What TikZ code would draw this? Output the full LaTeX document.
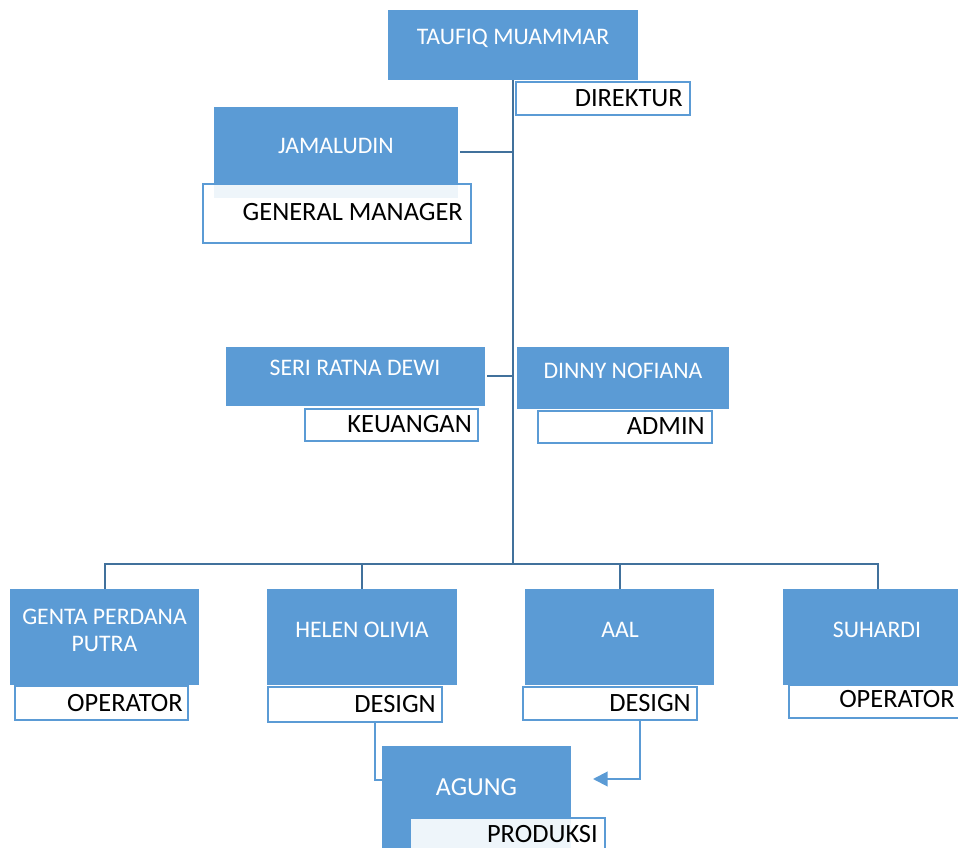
\documentclass[tikz,border=0pt]{standalone}
\usepackage{fontspec}
\setmainfont{Carlito}
\usetikzlibrary{arrows.meta}
\definecolor{boxblue}{HTML}{5B9BD5}
\definecolor{lineblue}{HTML}{41719C}
\def\px{0.75pt}
\tikzset{
  boxsize/.style 2 args={minimum width=#1*\px, minimum height=#2*\px},
  namebox/.style={fill=boxblue, draw=none, inner sep=0pt},
  rolebox/.style={draw=boxblue, line width=1.6pt, fill=white, fill opacity=0.9, inner sep=0pt},
  nametext/.style={text=white, font=\fontsize{17.8}{20.25}\selectfont, anchor=base, inner sep=0pt},
  roletext/.style={text=black, font=\fontsize{19.8}{22}\selectfont, anchor=base east, inner sep=0pt},
  trunk/.style={draw=lineblue, line width=1.5pt},
  flow/.style={draw=boxblue, line width=1.5pt},
}
\begin{document}
\begin{tikzpicture}[x=0.75pt,y=-0.75pt]
\useasboundingbox (0,0) rectangle (958,848);
% name boxes
\node[namebox, boxsize={250}{70}] (taufiq) at (513,45) {};
\node[namebox, boxsize={244}{91}] (jamal) at (336,152.5) {};
\node[namebox, boxsize={259}{59}] (seri) at (355.5,376.5) {};
\node[namebox, boxsize={212}{62}] (dinny) at (623,378) {};
\node[namebox, boxsize={189}{96}] (genta) at (104.5,637) {};
\node[namebox, boxsize={190}{96}] (helen) at (362,637) {};
\node[namebox, boxsize={189}{96}] (aal) at (619.5,637) {};
\node[namebox, boxsize={189}{96}] (suhardi) at (877.5,637) {};
\node[namebox, boxsize={189}{114}] (agung) at (476.5,803) {};

% trunk and bus
\coordinate (bus) at (513,564);
\draw[trunk] (taufiq.south) -- (bus);
\draw[trunk] (genta.north) |- (bus) -| (suhardi.north);
\draw[trunk] (helen.north) -- (helen.north |- bus);
\draw[trunk] (aal.north) -- (aal.north |- bus);
\draw[trunk] ([xshift=1.5pt]jamal.east) -- (jamal.east -| bus);
\draw[trunk] ([xshift=1.5pt]seri.east) -- (seri.east -| bus);

% role boxes
\node[rolebox, boxsize={174}{33}] (direktur) at (603,98.5) {};
\node[rolebox, boxsize={268}{59}] (genman) at (337,213.5) {};
\node[rolebox, boxsize={173}{32}] (keuangan) at (391.5,425) {};
\node[rolebox, boxsize={174}{32}] (admin) at (625,427) {};
\node[rolebox, boxsize={173}{34}] (operatorL) at (101.5,703) {};
\node[rolebox, boxsize={174}{35}] (designH) at (355,704.5) {};
\node[rolebox, boxsize={174}{33}] (designA) at (610,703.5) {};
\node[rolebox, boxsize={172}{33}] (operatorR) at (875,701.5) {};
\node[rolebox, boxsize={195}{34}] (produksi) at (507.5,835) {};

% design to produksi
\coordinate (agungarrow) at (593,779);
\draw[flow] ([xshift=81pt]designH.south west) |- ([yshift=-26pt]agung.north west);
\draw[flow, -{Triangle[length=11pt, width=11pt]}] ([xshift=22.5pt]designA.south) |- (agungarrow);

% names
\node[nametext] (taufiqtxt) at (513,45) {TAUFIQ MUAMMAR};
\node[nametext] (jamaltxt) at (336,154) {JAMALUDIN};
\node[nametext] (seritxt) at (355,376) {SERI RATNA DEWI};
\node[nametext] (dinnytxt) at (623,379) {DINNY NOFIANA};
\node[nametext, align=center] (gentatxt) at (104.5,652) {GENTA PERDANA\\PUTRA};
\node[nametext] (helentxt) at (362,638) {HELEN OLIVIA};
\node[nametext] (aaltxt) at (620,638) {AAL};
\node[nametext] (suhardtxt) at (877,638) {SUHARDI};
\node[nametext, font=\fontsize{19.5}{22}\selectfont] (agungtxt) at (476.5,795) {AGUNG};

% roles
\node[roletext] (direkturtxt) at (683,107) {DIREKTUR};
\node[roletext] (genmantxt) at (463,221) {GENERAL MANAGER};
\node[roletext] (keuangantxt) at (472,433) {KEUANGAN};
\node[roletext] (admintxt) at (705,435) {ADMIN};
\node[roletext] (operatorLtxt) at (183,711) {OPERATOR};
\node[roletext] (designHtxt) at (436,713) {DESIGN};
\node[roletext] (designAtxt) at (691,711) {DESIGN};
\node[roletext] (operatorRtxt) at (955,708) {OPERATOR};
\node[roletext] (produksitxt) at (598,842) {PRODUKSI};
\end{tikzpicture}
\end{document}
